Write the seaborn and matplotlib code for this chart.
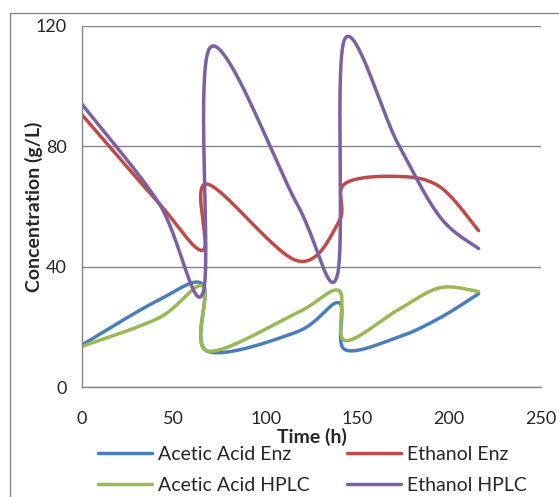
import numpy as np
import pandas as pd
import matplotlib
matplotlib.use('Agg')
import matplotlib.pyplot as plt
import seaborn as sns
from matplotlib.patches import Rectangle

# valores
tempo = [0, 42, 66, 68, 117, 140, 143, 172, 195, 216]
tempo_etoh_hplc = [0, 42, 66, 70, 117, 139, 143, 172, 195, 216]
acetic_enz = [14, 29, 34, 12, 18.3, 28, 12.5, 16.5, 23, 31]
ethanol_enz = [90.5, 61, 45.5, 67.5, 42, 55, 67.5, 70, 66.5, 52]
acetic_hplc = [13.5, 23, 33.5, 12, 24.6, 32, 15.5, 25.6, 33, 31.7]
ethanol_hplc = [94, 61, 31.5, 113, 61, 37, 115.5, 81, 56.5, 46]

series = [('Acetic Acid Enz', tempo, acetic_enz, '#4A7EBB'),
          ('Ethanol Enz', tempo, ethanol_enz, '#BE4B48'),
          ('Acetic Acid HPLC', tempo, acetic_hplc, '#98B954'),
          ('Ethanol HPLC', tempo_etoh_hplc, ethanol_hplc, '#7D60A0')]


def suavizar(x, y, n=40):
    # curva suavizada estilo Excel (Catmull-Rom em forma de Bezier)
    p = np.column_stack([x, y]).astype(float)
    p_ext = np.vstack([p[0], p, p[-1]])
    out = []
    t = np.linspace(0, 1, n)[:, None]
    for i in range(len(p) - 1):
        p0, p1, p2, p3 = p_ext[i], p_ext[i + 1], p_ext[i + 2], p_ext[i + 3]
        b1 = p1 + (p2 - p0) / 6
        b2 = p2 - (p3 - p1) / 6
        seg = ((1 - t) ** 3) * p1 + 3 * ((1 - t) ** 2) * t * b1 + 3 * (1 - t) * t ** 2 * b2 + t ** 3 * p2
        out.append(seg if i == 0 else seg[1:])
    return np.vstack(out)


sns.set_style('white')
plt.rcParams['font.family'] = ['Lato', 'DejaVu Sans']

fig = plt.figure(figsize=(5.59, 4.97), dpi=100)
ax = fig.add_axes([82 / 559, 1 - 387 / 497, (541 - 82) / 559, (387 - 26) / 497])

# moldura externa da área do gráfico
fig.add_artist(Rectangle((10 / 559, -0.1), 1.2, 1 - 13 / 497 + 0.1, transform=fig.transFigure,
                         fill=False, edgecolor='#868686', linewidth=1.0))

for nome, tt, vals, cor in series:
    xy = suavizar(tt, vals)
    df = pd.DataFrame({'t': xy[:, 0], 'c': xy[:, 1]})
    sns.lineplot(data=df, x='t', y='c', sort=False, estimator=None, color=cor,
                 linewidth=2.5, label=nome, ax=ax)

ax.set_xlim(0, 250)
ax.set_ylim(0, 120)
ax.set_xticks([0, 50, 100, 150, 200, 250])
ax.set_yticks([0, 40, 80, 120])
ax.yaxis.grid(True, color='#868686', linewidth=1.0)
ax.set_axisbelow(True)
for s in ['top', 'right']:
    ax.spines[s].set_visible(False)
for s in ['left', 'bottom']:
    ax.spines[s].set_color('#868686')
    ax.spines[s].set_linewidth(1.0)
ax.tick_params(axis='both', direction='out', length=6, width=1, color='#868686',
               labelsize=13, pad=5)
ax.tick_params(axis='x', pad=11)

ax.set_xlabel('Time (h)', fontsize=14, fontweight='bold', labelpad=1)
ax.set_ylabel('Concentration (g/L)', fontsize=14, fontweight='bold', labelpad=-5)

h, l = ax.get_legend_handles_labels()
ordem = [0, 2, 1, 3]
ax.legend([h[i] for i in ordem], [l[i] for i in ordem], ncol=2, frameon=False,
          loc='center left', bbox_to_anchor=(98 / 559, 1 - 470 / 497), bbox_transform=fig.transFigure,
          fontsize=14, handlelength=2.8, handletextpad=0.3, columnspacing=1.9, labelspacing=0.75,
          borderaxespad=0, borderpad=0)

fig.savefig('out.png', dpi=100)
